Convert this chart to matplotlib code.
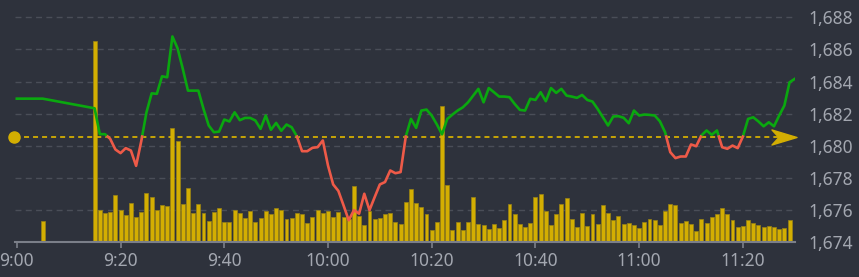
import numpy as np
import matplotlib
matplotlib.use('Agg')
import matplotlib.pyplot as plt
from matplotlib import transforms
from matplotlib.path import Path

plt.rcParams['lines.scale_dashes'] = False
plt.rcParams['font.family'] = ['Noto Sans', 'DejaVu Sans']

# --- data (minutes after 9:00) ---
prev_close = 1680.58

line_minutes = [0, 5] + list(range(15, 151))
prices = [1682.94, 1682.94,
          1682.34, 1680.73, 1680.73, 1680.44, 1679.78, 1679.55, 1679.86, 1679.71, 1678.76, 1680.30,
          1682.09, 1683.27, 1683.24, 1684.33, 1684.27, 1686.81, 1686.07, 1684.80, 1683.44, 1683.44,
          1683.44, 1682.30, 1681.27, 1680.85, 1680.89, 1681.64, 1681.52, 1682.09, 1681.60, 1681.74,
          1681.74, 1681.58, 1681.06, 1681.89, 1681.00, 1681.43, 1680.94, 1681.33, 1681.16, 1680.60,
          1679.67, 1679.67, 1679.88, 1679.92, 1680.34, 1678.78, 1677.60, 1677.20, 1676.30, 1675.37,
          1676.00, 1675.78, 1677.02, 1676.00, 1676.81, 1677.60, 1677.75, 1678.47, 1678.30, 1678.37,
          1680.58, 1681.68, 1681.12, 1682.20, 1682.26, 1681.89, 1681.33, 1680.72, 1681.68, 1681.95,
          1682.20, 1682.40, 1682.71, 1683.13, 1683.55, 1682.71, 1683.60, 1683.34, 1683.07, 1683.07,
          1683.03, 1682.61, 1682.24, 1682.20, 1682.93, 1682.86, 1683.34, 1682.78, 1683.60, 1683.30,
          1683.55, 1683.13, 1683.07, 1682.99, 1683.17, 1682.86, 1682.76, 1682.30, 1681.78, 1681.27,
          1681.83, 1681.85, 1681.75, 1681.41, 1682.20, 1681.89, 1681.95, 1681.93, 1681.89, 1681.53,
          1680.85, 1679.61, 1679.24, 1679.34, 1679.34, 1680.09, 1679.98, 1680.65, 1680.96, 1680.69,
          1680.96, 1679.92, 1679.82, 1680.02, 1679.86, 1680.58, 1681.68, 1681.78, 1681.52, 1681.22,
          1681.47, 1681.22, 1681.89, 1682.51, 1683.96, 1684.17]

vol_minutes = [5] + list(range(15, 151))
volumes = [210,
           2015, 320, 297, 307, 473, 327, 270, 397, 257, 300,
           497, 457, 327, 377, 360, 1147, 1017, 380, 543, 293,
           387, 297, 210, 303, 347, 200, 207, 320, 297, 240,
           310, 200, 247, 310, 280, 347, 327, 237, 247, 293,
           283, 193, 257, 323, 290, 317, 257, 300, 257, 230,
           567, 260, 170, 313, 237, 243, 287, 297, 207, 183,
           400, 537, 397, 357, 283, 120, 203, 1360, 570, 127,
           200, 127, 200, 453, 180, 170, 137, 180, 140, 227,
           387, 283, 180, 150, 193, 457, 487, 317, 173, 280,
           380, 440, 230, 150, 293, 160, 287, 183, 377, 293,
           220, 263, 180, 190, 170, 143, 203, 230, 227, 170,
           313, 380, 370, 190, 217, 183, 110, 230, 193, 257,
           283, 347, 287, 227, 150, 167, 220, 197, 177, 157,
           167, 150, 130, 147, 220, 10]

tick_minutes = [0, 20, 40, 60, 80, 100, 120, 140]
tick_labels = ['9:00', '9:20', '9:40', '10:00', '10:20', '10:40', '11:00', '11:20']
price_ticks = [1674, 1676, 1678, 1680, 1682, 1684, 1686, 1688]

# --- style ---
bg = '#2e323c'
grid_c = '#4a4e58'
green = '#0aa80f'
red = '#ee5a48'
gold = '#d3ae02'
text_c = '#a3a7b0'

fig = plt.figure(figsize=(8.59, 2.77), dpi=100, facecolor=bg)
ax_v = fig.add_axes([15 / 859, 34.7 / 277, 780 / 859, 242.3 / 277])
ax_v.set_facecolor(bg)
ax = ax_v.twinx()
ax.patch.set_visible(False)

ax.set_xlim(-0.35, 150.05)
ax.set_ylim(1674, 1689.08)
ax_v.set_ylim(0, 2423)

# grid lines in price units, drawn under the bars
gt = transforms.blended_transform_factory(ax_v.transAxes, ax.transData)
for p in price_ticks[1:]:
    ax_v.plot([0, 1], [p, p], transform=gt, color=grid_c, lw=1,
              ls=(0, (4.3, 3.1)), zorder=0)

ax_v.bar(vol_minutes, volumes, width=0.76, color=gold, edgecolor='#9a8414',
         linewidth=0.5, zorder=2)

# price line, green above prev close, red below
t = np.array(line_minutes, float)
p = np.array(prices)
xs, ys = [t[0]], [p[0]]
for i in range(1, len(t)):
    d0, d1 = p[i - 1] - prev_close, p[i] - prev_close
    if d0 * d1 < 0:
        f = d0 / (d0 - d1)
        xs.append(t[i - 1] + f * (t[i] - t[i - 1]))
        ys.append(prev_close)
    xs.append(t[i])
    ys.append(p[i])
xs, ys = np.array(xs), np.array(ys)
ax.plot(xs, np.where(ys >= prev_close, ys, np.nan), color=green, lw=1.9, zorder=4,
        solid_joinstyle='round')
ax.plot(xs, np.where(ys <= prev_close, ys, np.nan), color=red, lw=1.9, zorder=4,
        solid_joinstyle='round')

# prev close line with dot and arrow
ax.axhline(prev_close, color=gold, lw=1.3, ls=(0, (3.6, 2.9)), zorder=3)
ax.plot([-0.55], [prev_close], 'o', ms=8, color=gold, clip_on=False, zorder=5)
arrow = Path([(-1, 0.6), (1, 0), (-1, -0.6), (-0.45, 0), (-1, 0.6)],
             [Path.MOVETO, Path.LINETO, Path.LINETO, Path.LINETO, Path.CLOSEPOLY])
ax.plot([148.0], [prev_close], marker=arrow, ms=18, color=gold, mec=gold,
        clip_on=False, zorder=5)

# axes
for a in (ax, ax_v):
    for s in ('top', 'left', 'right'):
        a.spines[s].set_visible(False)
    a.spines['bottom'].set_visible(False)
ax_v.spines['bottom'].set_visible(True)
ax_v.spines['bottom'].set_color('#7b7f89')
ax_v.spines['bottom'].set_linewidth(1.5)
ax_v.set_yticks([])
ax_v.set_xticks(tick_minutes)
ax_v.set_xticklabels(tick_labels)
ax_v.tick_params(axis='x', colors='#7b7f89', labelcolor=text_c, length=4,
                 width=1.2, pad=3, labelsize=12.5)

ax.set_yticks(price_ticks)
ax.set_yticklabels([f'{v:,}' for v in price_ticks])
ax.tick_params(axis='y', length=0, pad=10, labelcolor=text_c, labelsize=12.5)

fig.savefig('out.png', dpi=100, facecolor=bg)
